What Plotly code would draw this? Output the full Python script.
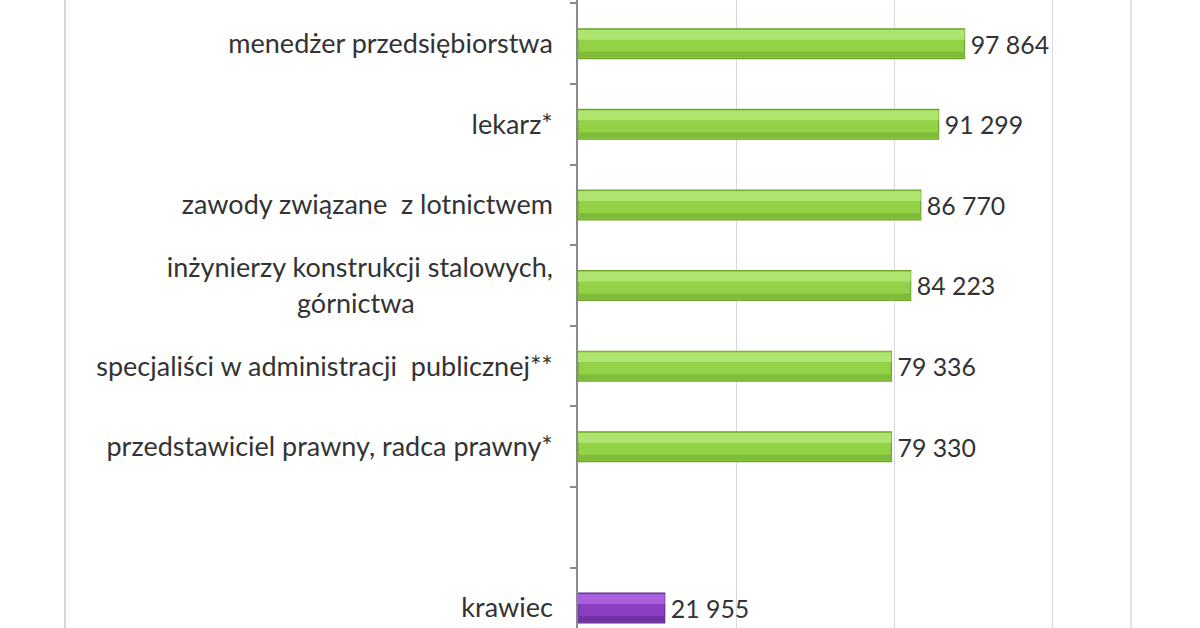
import plotly.graph_objects as go

categories = [
    "menedżer przedsiębiorstwa",
    "lekarz*",
    "zawody związane  z lotnictwem",
    "inżynierzy konstrukcji stalowych,<br>górnictwa" + "\u00a0" * 20,
    "specjaliści w administracji  publicznej**",
    "przedstawiciel prawny, radca prawny*",
    "\u00a0",
    "krawiec",
]
values = [97864, 91299, 86770, 84223, 79336, 79330, None, 21955]
bar_colors = ["#92d246"] * 6 + ["#8a3fc2", "#8a3fc2"]
edge_colors = ["#6fa22e"] * 6 + ["#5e2a8a", "#5e2a8a"]
light_colors = ["#aee470"] * 6 + ["#a860dc", "#a860dc"]
dark_colors = ["#7fbc3a"] * 6 + ["#7232a6", "#7232a6"]
x_gridlines = [0, 40000, 80000, 120000]

labels = ["" if v is None else "\u2009" + f"{v:,}".replace(",", " ") for v in values]

FONT = "Lato"
TXT = "#333333"

fig = go.Figure()
fig.add_trace(go.Bar(
    y=categories, x=values, orientation="h",
    width=0.37,
    marker=dict(color=bar_colors, line=dict(color=edge_colors, width=1.2)),
    text=labels, textposition="outside",
    textfont=dict(family=FONT, size=30, color=TXT),
    cliponaxis=False, hoverinfo="skip",
))
fig.add_trace(go.Bar(
    y=categories, x=values, orientation="h",
    width=0.12, offset=-0.17,
    marker=dict(color=light_colors, line=dict(width=0)),
    hoverinfo="skip",
))
fig.add_trace(go.Bar(
    y=categories, x=values, orientation="h",
    width=0.07, offset=0.1,
    marker=dict(color=dark_colors, line=dict(width=0)),
    hoverinfo="skip",
))

fig.update_layout(
    width=1200, height=628,
    margin=dict(l=578, r=69, t=0, b=0),
    paper_bgcolor="white", plot_bgcolor="white",
    showlegend=False, barmode="overlay",
    font=dict(family=FONT, size=27, color=TXT),
    xaxis=dict(
        range=[0, 140000], showticklabels=False,
        tickvals=x_gridlines, showgrid=True,
        gridcolor="#d9d9d9", gridwidth=1.3,
        zeroline=False, showline=False, ticks="",
    ),
    yaxis=dict(
        type="category", categoryorder="array", categoryarray=categories,
        range=[7.249, -0.543],
        showline=True, linecolor="#8a8a8a", linewidth=1.5,
        ticks="outside", tickson="boundaries", ticklen=6,
        tickcolor="#8a8a8a", tickwidth=1.5,
        ticklabelstandoff=18,
        tickfont=dict(family=FONT, size=27, color=TXT),
        showgrid=False, zeroline=False,
    ),
    shapes=[
        dict(type="line", xref="paper", yref="paper", x0=1, x1=1, y0=0, y1=1,
             line=dict(color="#d9d9d9", width=1.5)),
        dict(type="line", xref="paper", yref="paper",
             x0=-(578 - 65) / (1200 - 578 - 69), x1=-(578 - 65) / (1200 - 578 - 69),
             y0=0, y1=1, line=dict(color="#c8c8c8", width=1.5)),
    ],
)

fig.write_html("out.html", config={"displayModeBar": False},
               post_script="document.body.style.margin='0';")
